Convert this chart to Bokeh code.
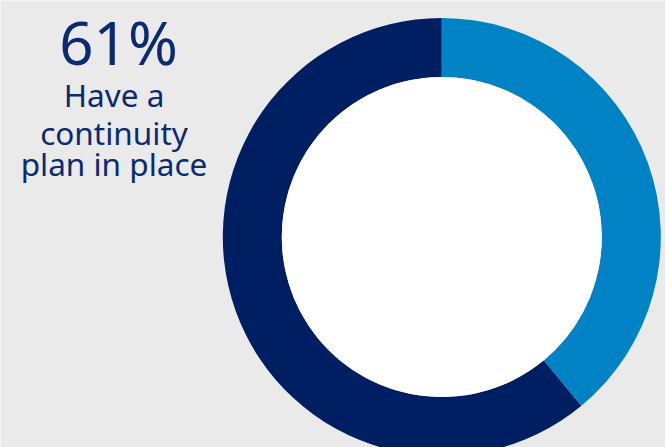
import math
from bokeh.plotting import figure
from bokeh.models import Range1d
from bokeh.core.properties import value
from bokeh.embed import file_html
from bokeh.resources import INLINE

# data
segments = ["Have a continuity plan in place", "No plan"]
shares = [61, 39]
colors = ["#001F63", "#0082C4"]
headline = "61%"
caption_lines = ["Have a", "continuity", "plan in place"]

W, H = 665, 447
p = figure(width=W, height=H, output_backend="svg", toolbar_location=None,
           x_range=Range1d(0, W), y_range=Range1d(0, H), min_border=0)
p.axis.visible = False
p.grid.visible = False
p.outline_line_color = None
p.background_fill_color = "#EAEAEB"
p.border_fill_color = "#EAEAEB"

cx, cy = 441.3, H - 236.5
r_out, r_in = 219, 160

total = sum(shares)
top = math.pi / 2
blue_end = top - 2 * math.pi * shares[1] / total
# navy: from top anticlockwise round to where the blue share ends
p.annular_wedge(x=cx, y=cy, inner_radius=r_in, outer_radius=r_out,
                start_angle=top, end_angle=blue_end, direction="anticlock",
                color=colors[0], line_color=None)
# blue: from top clockwise
p.annular_wedge(x=cx, y=cy, inner_radius=r_in, outer_radius=r_out,
                start_angle=top, end_angle=blue_end, direction="clock",
                color=colors[1], line_color=None)
p.circle(x=cx, y=cy, radius=r_in, color="white", line_color=None)

font = value("Noto Sans")
k = 0.41  # compensation for rendered baseline offset
s1, s2 = 60, 31.5
p.text(x=[118], y=[H - (66.5 - k * s1)], text=[headline], text_align="center",
       text_baseline="alphabetic", text_font=font,
       text_font_size=f"{s1}px", text_color="#0B2A6F")
base = [106.5, 144.5, 175.5]
p.text(x=[113.5] * 3, y=[H - (b - k * s2) for b in base], text=caption_lines,
       text_align="center", text_baseline="alphabetic", text_font=font,
       text_font_size=f"{s2}px", text_color="#0B2A6F")

open("out.html", "w").write(file_html(p, INLINE))
